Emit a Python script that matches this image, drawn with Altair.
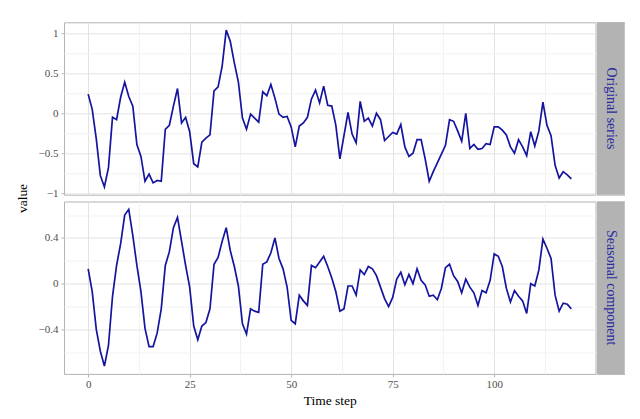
import altair as alt
import pandas as pd

time_step = list(range(120))

original_series = [
    0.24, 0.05, -0.32, -0.78, -0.92, -0.68, -0.05, -0.08, 0.20, 0.39,
    0.21, 0.09, -0.39, -0.54, -0.85, -0.76, -0.87, -0.84, -0.85, -0.20,
    -0.15, 0.09, 0.31, -0.12, -0.05, -0.23, -0.63, -0.67, -0.36, -0.31,
    -0.27, 0.28, 0.33, 0.59, 1.04, 0.90, 0.63, 0.39, -0.06, -0.20,
    -0.01, -0.06, -0.11, 0.27, 0.22, 0.36, 0.19, -0.01, -0.05, -0.04,
    -0.17, -0.42, -0.16, -0.12, -0.05, 0.18, 0.29, 0.13, 0.34, 0.10,
    0.09, -0.15, -0.57, -0.28, 0.01, -0.26, -0.37, 0.15, -0.10, -0.06,
    -0.16, 0.00, -0.08, -0.34, -0.29, -0.24, -0.26, -0.14, -0.42, -0.54,
    -0.50, -0.33, -0.33, -0.57, -0.85, -0.73, -0.62, -0.51, -0.40, -0.08,
    -0.10, -0.22, -0.35, 0.00, -0.44, -0.39, -0.45, -0.44, -0.38, -0.39,
    -0.17, -0.17, -0.21, -0.27, -0.42, -0.50, -0.33, -0.42, -0.53, -0.23,
    -0.41, -0.22, 0.14, -0.15, -0.28, -0.65, -0.81, -0.73, -0.77, -0.82,
]

seasonal_component = [
    0.13, -0.07, -0.40, -0.59, -0.72, -0.54, -0.11, 0.16, 0.35, 0.60,
    0.65, 0.42, 0.16, -0.07, -0.39, -0.55, -0.55, -0.43, -0.22, 0.16,
    0.28, 0.49, 0.58, 0.37, 0.16, -0.03, -0.37, -0.49, -0.37, -0.34,
    -0.22, 0.17, 0.23, 0.37, 0.49, 0.29, 0.15, -0.02, -0.35, -0.44,
    -0.22, -0.24, -0.25, 0.17, 0.19, 0.27, 0.40, 0.22, 0.13, -0.03,
    -0.32, -0.35, -0.10, -0.15, -0.19, 0.16, 0.14, 0.19, 0.24, 0.15,
    0.05, -0.07, -0.24, -0.22, -0.02, -0.02, -0.10, 0.12, 0.08, 0.15,
    0.13, 0.07, -0.03, -0.13, -0.20, -0.12, 0.04, 0.10, -0.01, 0.08,
    0.00, 0.13, 0.03, -0.01, -0.11, -0.10, -0.14, -0.04, 0.14, 0.17,
    0.07, 0.02, -0.08, 0.04, -0.03, -0.08, -0.19, -0.06, -0.08, 0.03,
    0.26, 0.24, 0.15, -0.04, -0.16, -0.06, -0.11, -0.15, -0.26, 0.00,
    -0.02, 0.12, 0.39, 0.31, 0.22, -0.10, -0.24, -0.17, -0.18, -0.22,
]

panel_names = ["Original series", "Seasonal component"]
x_ticks = [0, 12.5, 25, 37.5, 50, 62.5, 75, 87.5, 100, 112.5]
y_ticks_top = [-1, -0.75, -0.5, -0.25, 0, 0.25, 0.5, 0.75, 1]
y_ticks_bottom = [-0.6, -0.4, -0.2, 0, 0.2, 0.4, 0.6]
y_title = ["value"]

FONT = "Liberation Serif"
LINE = "#1414a0"
GRID = "#e2e2e2"
GRID_MINOR = "#f2f2f2"
BORDER = "#b3b3b3"
STRIP = "#b3b3b3"
STRIP_TEXT = "#2a2aa0"

W, H = 531.5, 172.4
GAP = 7.6
ROW_SPACING = 1.2
STRIP_W = 27.5
TITLE_W = 20
Y_EXT = 26


def expand(vals, f=0.05):
    lo, hi = min(vals), max(vals)
    d = (hi - lo) * f
    return [lo - d, hi + d]


x_dom = expand(time_step)


def panel(values, name, y_ticks, major_test, show_x):
    df = pd.DataFrame({"t": time_step, "value": values})
    x_kwargs = dict(
        values=x_ticks,
        grid=True,
        gridColor={"condition": {"test": "datum.value % 25 === 0", "value": GRID}, "value": GRID_MINOR},
        domain=False,
    )
    if show_x:
        x_kwargs.update(
            labels=True, ticks=True,
            tickColor={"condition": {"test": "datum.value % 25 === 0", "value": BORDER}, "value": "transparent"},
            tickSize=3,
            labelExpr="datum.value % 25 === 0 ? format(datum.value, '~g') : ''",
            labelFont=FONT, labelFontSize=11, labelColor="#4d4d4d", labelPadding=2,
            title="Time step", titleFont=FONT, titleFontSize=13.5, titleFontWeight="normal",
            titleColor="#000000", titlePadding=4,
        )
    else:
        x_kwargs.update(labels=False, ticks=False, title=None, minExtent=0, maxExtent=0)
    y_axis = alt.Axis(
        values=y_ticks,
        grid=True,
        gridColor={"condition": {"test": major_test, "value": GRID}, "value": GRID_MINOR},
        tickColor={"condition": {"test": major_test, "value": BORDER}, "value": "transparent"},
        tickSize=3,
        labelExpr=f"({major_test}) ? format(datum.value, '~g') : ''",
        labelFont=FONT, labelFontSize=11, labelColor="#4d4d4d", labelPadding=3,
        domain=False, title=None, minExtent=Y_EXT, maxExtent=Y_EXT,
    )
    line = alt.Chart(df).mark_line(color=LINE, strokeWidth=1.7).encode(
        x=alt.X("t:Q", scale=alt.Scale(domain=x_dom, nice=False, zero=False), axis=alt.Axis(**x_kwargs)),
        y=alt.Y("value:Q", scale=alt.Scale(domain=expand(values), nice=False, zero=False), axis=y_axis),
    ).properties(width=W, height=H)

    sdf = pd.DataFrame({"label": [name]})
    strip_bg = alt.Chart(sdf).mark_rect(color=STRIP).encode(
        x=alt.value(0), x2=alt.value(STRIP_W), y=alt.value(0), y2=alt.value(H)
    )
    strip_txt = alt.Chart(sdf).mark_text(
        angle=90, font=FONT, fontSize=14, color=STRIP_TEXT, align="center", baseline="middle"
    ).encode(text="label:N", x=alt.value(STRIP_W / 2), y=alt.value(H / 2))
    strip = alt.layer(strip_bg, strip_txt).properties(width=STRIP_W, height=H)
    return alt.hconcat(line, strip, spacing=0)


top = panel(original_series, panel_names[0], y_ticks_top, "datum.value % 0.5 === 0", False)
bottom = panel(seasonal_component, panel_names[1], y_ticks_bottom,
               "abs(round(datum.value * 10)) % 4 === 0", True)

ytitle = alt.Chart(pd.DataFrame({"label": y_title})).mark_text(
    angle=270, font=FONT, fontSize=13.5, color="#000000", align="center", baseline="middle"
).encode(
    text="label:N", x=alt.value(TITLE_W / 2), y=alt.value((2 * H + GAP) / 2)
).properties(width=TITLE_W, height=2 * H + GAP, view=alt.ViewBackground(stroke=None))

chart = alt.hconcat(
    ytitle, alt.vconcat(top, bottom, spacing=ROW_SPACING), spacing=4
).properties(
    padding={"left": 5, "top": 13.3, "right": 0, "bottom": 0},
    background="white",
).configure_view(stroke=BORDER, strokeWidth=1)

chart.save("out.html", embed_options={"renderer": "svg", "actions": False})
